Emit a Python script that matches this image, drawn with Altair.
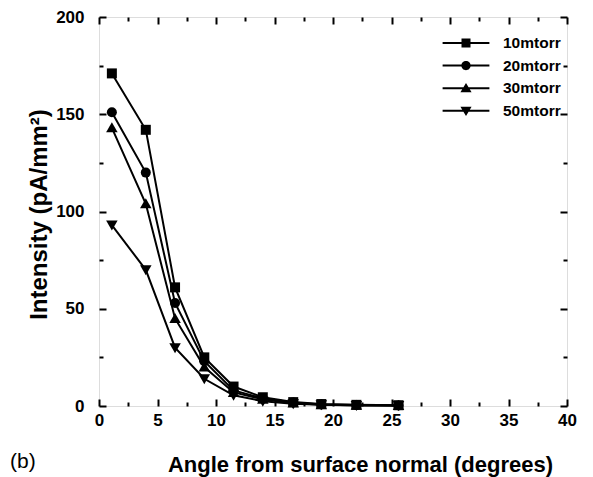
import altair as alt
import pandas as pd

# ---- data ----
angles = [1.1, 4.0, 6.5, 9.0, 11.5, 14.0, 16.6, 19.0, 22.0, 25.6]
series_names = ["10mtorr", "20mtorr", "30mtorr", "50mtorr"]
i10 = [171, 142, 61, 25, 10, 4.5, 2.0, 1.0, 0.6, 0.4]
i20 = [151, 120, 53, 23, 8, 4.0, 1.8, 0.8, 0.5, 0.3]
i30 = [143, 104, 45, 20, 7, 3.5, 1.5, 0.7, 0.4, 0.2]
i50 = [93, 70, 30, 14, 5.5, 2.5, 1.2, 0.6, 0.3, 0.2]
x_ticks = [0, 2.5, 5, 7.5, 10, 12.5, 15, 17.5, 20, 22.5, 25, 27.5, 30, 32.5, 35, 37.5, 40]
y_ticks = [0, 25, 50, 75, 100, 125, 150, 175, 200]

rows = []
for name, vals in zip(series_names, [i10, i20, i30, i50]):
    for a, v in zip(angles, vals):
        rows.append({"angle": a, "intensity": v, "series": name})
df = pd.DataFrame(rows)

FONT = "Liberation Sans"
W, H = 468, 389

x_scale = alt.Scale(domain=[0, 40], nice=False, zero=False)
y_scale = alt.Scale(domain=[0, 200], nice=False, zero=False)


def tsize(step):
    return {"expr": f"datum.value % {step} === 0 ? -7 : -4"}


common = dict(domain=False, grid=False, tickColor="black", tickWidth=2,
              labelFont=FONT, labelFontSize=17, labelFontWeight="bold",
              labelColor="black", labelOverlap=False, labelFlush=False)

x_bottom = alt.Axis(orient="bottom", values=x_ticks, tickSize=tsize(5),
                    labelExpr="datum.value % 5 === 0 ? datum.label : ''", labelPadding=13,
                    title="Angle from surface normal (degrees)", titleFont=FONT, titleFontSize=22,
                    titleFontWeight="bold", titleColor="black", titleX=261, titleY=65,
                    titleBaseline="alphabetic", titleAlign="center", **common)
y_left = alt.Axis(orient="left", values=y_ticks, tickSize=tsize(50),
                  labelExpr="datum.value % 50 === 0 ? datum.label : ''", labelPadding=22,
                  title="Intensity (pA/mm²)", titleFont=FONT, titleFontSize=24,
                  titleFontWeight="bold", titleColor="black", titleX=-60, titleY=197,
                  titleBaseline="middle", titleAlign="center", titleAngle=-90, **common)
x_top = alt.Axis(orient="top", values=x_ticks, tickSize=tsize(5),
                 labels=False, title=None, domain=False, grid=False, tickColor="black", tickWidth=2)
y_right = alt.Axis(orient="right", values=y_ticks, tickSize=tsize(50),
                   labels=False, title=None, domain=False, grid=False, tickColor="black", tickWidth=2)

base = alt.Chart(df)

lines = base.mark_line(color="black", strokeWidth=2).encode(
    x=alt.X("angle:Q", scale=x_scale, axis=x_bottom),
    y=alt.Y("intensity:Q", scale=y_scale, axis=y_left),
    detail="series:N",
)

point_shapes = [
    "square",
    "circle",
    "M0,-1.1 L1.15,0.9 L-1.15,0.9 Z",
    "M-1.15,-0.9 L1.15,-0.9 L0,1.1 Z",
]

points = base.mark_point(filled=True, color="black", size=100, opacity=1).encode(
    x=alt.X("angle:Q", scale=x_scale, axis=x_top),
    y=alt.Y("intensity:Q", scale=y_scale, axis=y_right),
    shape=alt.Shape("series:N", scale=alt.Scale(domain=series_names, range=point_shapes),
                    legend=None),
)

legend_paths = [
    "M-2.6,-0.11 H2.6 V0.11 H-2.6 Z M-0.5,-0.5 H0.5 V0.5 H-0.5 Z",
    "M-2.6,-0.11 H2.6 V0.11 H-2.6 Z M-0.52,0 A0.52,0.52 0 1,1 0.52,0 A0.52,0.52 0 1,1 -0.52,0 Z",
    "M-2.6,-0.11 H2.6 V0.11 H-2.6 Z M0,-0.58 L0.62,0.45 L-0.62,0.45 Z",
    "M-2.6,-0.11 H2.6 V0.11 H-2.6 Z M-0.62,-0.45 L0.62,-0.45 L0,0.58 Z",
]

legend_layer = base.transform_filter("false").mark_point(filled=True, color="black", size=324).encode(
    x=alt.X("angle:Q", scale=x_scale, axis=None),
    y=alt.Y("intensity:Q", scale=y_scale, axis=None),
    shape=alt.Shape("series:N", scale=alt.Scale(domain=series_names, range=legend_paths),
                    legend=alt.Legend(orient="none", legendX=358, legendY=17, title=None,
                                      symbolSize=324, symbolFillColor="black",
                                      symbolStrokeWidth=0, symbolOpacity=1,
                                      labelFont=FONT, labelFontSize=15.5, labelFontWeight="bold",
                                      labelColor="black", labelOffset=28, rowPadding=4.6,
                                      padding=0)),
)

chart = alt.layer(lines, points, legend_layer).resolve_scale(
    shape="independent"
).resolve_axis(
    x="independent", y="independent"
).properties(
    width=W, height=H,
    autosize=alt.AutoSizeParams(type="none"),
    padding={"left": 99, "top": 17, "right": 26, "bottom": 71},
    title=alt.TitleParams(text="(b)", orient="bottom", anchor="start", frame="group",
                          dx=-89, offset=-24, font=FONT, fontSize=21, fontWeight="normal",
                          color="black"),
).configure_view(stroke="black", strokeWidth=2).configure(background="white")

chart.save("out.html", embed_options={"renderer": "svg", "actions": False})
